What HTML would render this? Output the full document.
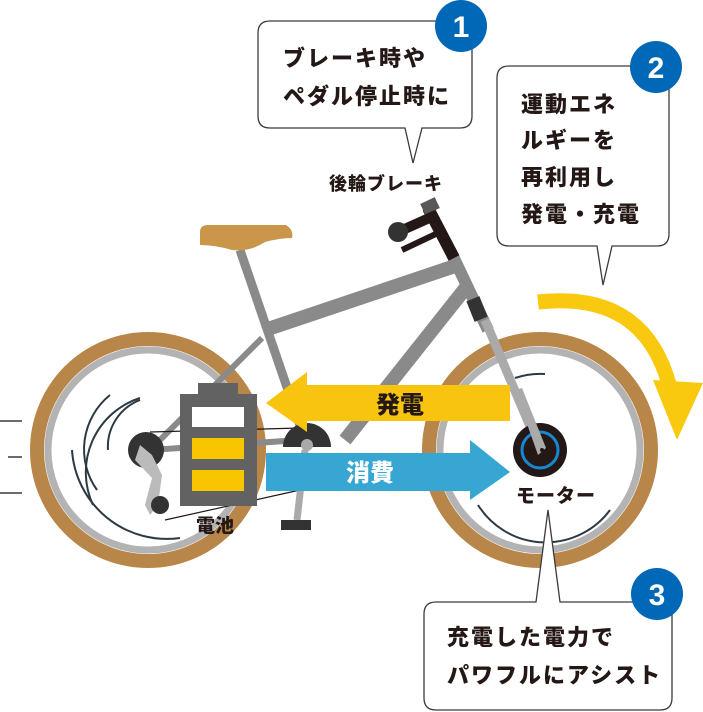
<!DOCTYPE html>
<html><head><meta charset="utf-8"><style>
html,body{margin:0;padding:0;background:#fff;}
svg{display:block;}
text{font-family:"Liberation Sans","Noto Sans CJK JP",sans-serif;font-weight:900;}
.c{font-size:22px;letter-spacing:2px;}
</style></head><body>
<svg width="703" height="712" viewBox="0 0 703 712" xmlns="http://www.w3.org/2000/svg">
<g stroke="#6b6b6b" stroke-width="2">
<line x1="0" y1="421" x2="22" y2="421"/><line x1="8" y1="457" x2="22" y2="457"/><line x1="0" y1="493" x2="22" y2="493"/>
</g>
<circle cx="148" cy="450" r="111" fill="none" stroke="#b9864a" stroke-width="14"/>
<circle cx="148" cy="450" r="100" fill="none" stroke="#b3b3b3" stroke-width="7"/>
<g fill="none" stroke="#2c3a44" stroke-width="2">
<path d="M93 505 A78 78 0 0 1 140 398"/>
<path d="M97 490 A70 70 0 0 1 110 395"/>
<path d="M72 450 A95 95 0 0 0 180 538"/>
<path d="M108 450 A50 50 0 0 1 140 400"/>
</g>
<circle cx="540" cy="450" r="111" fill="none" stroke="#b9864a" stroke-width="14"/>
<circle cx="540" cy="450" r="100" fill="none" stroke="#b3b3b3" stroke-width="7"/>
<g fill="none" stroke="#2c3a44" stroke-width="2">
<path d="M478 505 A80 80 0 0 0 610 510"/>
<path d="M515 378 A80 80 0 0 1 545 374"/>
</g>
<g stroke="#8a8a8a" stroke-linecap="butt" fill="none">
<line x1="240" y1="250" x2="305" y2="440" stroke-width="9"/>
<line x1="265" y1="330" x2="458" y2="265" stroke-width="14"/>
<line x1="468" y1="285" x2="345" y2="440" stroke-width="14"/>
<line x1="262" y1="338" x2="150" y2="450" stroke-width="6"/>
<line x1="150" y1="450" x2="300" y2="440" stroke-width="6"/>
<line x1="450" y1="250" x2="488" y2="330" stroke-width="12"/>
</g>
<line x1="485" y1="320" x2="540" y2="450" stroke="#aaa" stroke-width="9"/>
<rect x="470" y="298" width="14" height="22" fill="#333" transform="rotate(-22 477 309)"/>
<path d="M200 232 Q200 225 208 225 L286 225 Q294 230 292 238 Q280 238 265 242 Q250 252 232 250 Q215 245 200 245 Z" fill="#c9964a"/>
<line x1="428" y1="208" x2="454" y2="258" stroke="#231815" stroke-width="12"/>
<rect x="422" y="200" width="16" height="12" fill="#595757" transform="rotate(-25 430 206)"/>
<line x1="398" y1="232" x2="436" y2="215" stroke="#231815" stroke-width="10"/>
<line x1="402" y1="250" x2="440" y2="232" stroke="#231815" stroke-width="6"/>
<circle cx="398" cy="232" r="10" fill="#333"/>
<g stroke="#231815" stroke-width="1.2">
<line x1="150" y1="432" x2="300" y2="428"/><line x1="165" y1="520" x2="300" y2="490"/>
</g>
<circle cx="146" cy="450" r="18" fill="#333"/>
<path d="M140 445 L152 455 L162 475 L158 505 L150 515 L145 505 L152 478 L135 460 Z" fill="#bbb"/>
<circle cx="160" cy="505" r="9" fill="#333"/>
<path d="M283 447 A24 24 0 0 1 331 447 Z" fill="#333"/>
<circle cx="307" cy="445" r="6" fill="#aaa"/>
<line x1="305" y1="450" x2="297" y2="520" stroke="#aaa" stroke-width="7"/>
<path d="M281 520 L311 520 L311 530 L281 530 Z" fill="#333"/>
<rect x="198" y="383" width="40" height="12" fill="#626262"/>
<rect x="180" y="394" width="77" height="112" fill="#626262"/>
<rect x="192" y="407" width="52" height="20" fill="#fff"/>
<rect x="192" y="438" width="52" height="21" fill="#f9c400"/>
<rect x="192" y="470" width="52" height="21" fill="#f9c400"/>
<text x="196" y="532" font-size="19" fill="#231815">電池</text>
<path d="M266 403 L307 372 L307 385 L510 385 L510 421 L307 421 L307 432 Z" fill="#f9c40f"/>
<text x="376" y="413" font-size="24" fill="#231815">発電</text>
<path d="M266 453 L470 453 L470 440 L510 472 L470 500 L470 491 L266 491 Z" fill="#37a6d2"/>
<text x="346" y="481" font-size="24" fill="#fff">消費</text>
<circle cx="540" cy="450" r="27" fill="#231815"/>
<circle cx="540" cy="450" r="18" fill="none" stroke="#1a86d0" stroke-width="3"/>
<path d="M515 390 L522 388 L546 448 L538 455 Z" fill="#aaa"/>
<circle cx="542" cy="450" r="2" fill="#231815"/>
<text x="516" y="502" font-size="19" fill="#231815" letter-spacing="1">モーター</text>
<path d="M538 302 Q645 290 670 388" fill="none" stroke="#f9c90f" stroke-width="15"/>
<path d="M653 380 L703 383 L677 440 Z" fill="#f9c90f"/>
<path d="M270 21 L460 21 Q472 21 472 33 L472 116 Q472 128 460 128 L422 128 L413 163 L405 128 L270 128 Q258 128 258 116 L258 33 Q258 21 270 21 Z" fill="#fff" stroke="#3e3a39" stroke-width="1.3"/>
<text x="283" y="66" class="c" fill="#231815">ブレーキ時や</text>
<text x="283" y="104" class="c" fill="#231815">ペダル停止時に</text>
<circle cx="461" cy="26" r="26" fill="#0068b7"/>
<text x="461" y="37" font-size="30" fill="#fff" text-anchor="middle">1</text>
<text x="329" y="190" font-size="18" fill="#231815" letter-spacing="1">後輪ブレーキ</text>
<path d="M509 66 L657 66 Q669 66 669 78 L669 234 Q669 246 657 246 L612 246 L603 285 L597 246 L509 246 Q497 246 497 234 L497 78 Q497 66 509 66 Z" fill="#fff" stroke="#3e3a39" stroke-width="1.3"/>
<text x="521" y="112" class="c" fill="#231815">運動エネ</text>
<text x="521" y="148" class="c" fill="#231815">ルギーを</text>
<text x="521" y="185" class="c" fill="#231815">再利用し</text>
<text x="521" y="222" class="c" fill="#231815">発電・充電</text>
<circle cx="656" cy="67" r="26" fill="#0068b7"/>
<text x="656" y="78" font-size="30" fill="#fff" text-anchor="middle">2</text>
<path d="M436 602 L536 602 L548 510 L560 602 L660 602 Q672 602 672 614 L672 698 Q672 710 660 710 L436 710 Q424 710 424 698 L424 614 Q424 602 436 602 Z" fill="#fff" stroke="#3e3a39" stroke-width="1.3"/>
<text x="447" y="645" class="c" fill="#231815">充電した電力で</text>
<text x="447" y="683" class="c" fill="#231815">パワフルにアシスト</text>
<circle cx="657" cy="594" r="26" fill="#0068b7"/>
<text x="657" y="605" font-size="30" fill="#fff" text-anchor="middle">3</text>
</svg>
</body></html>
